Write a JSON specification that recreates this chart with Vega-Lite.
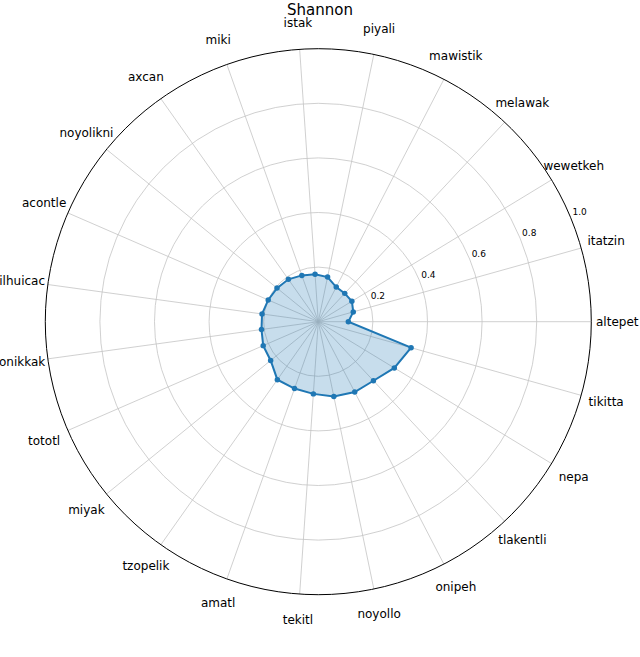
{
  "$schema": "https://vega.github.io/schema/vega-lite/v6.json",
  "width": 640,
  "height": 627,
  "padding": {"top": 30, "left": 0, "right": 0, "bottom": 0},
  "autosize": {"type": "none"},
  "title": {"text": "Shannon", "font": "DejaVu Sans", "fontSize": 15, "fontWeight": "normal", "color": "#000000", "anchor": "middle", "frame": "group", "baseline": "alphabetic", "offset": -13},
  "config": {"view": {"stroke": null}},
  "datasets": {
    "cats": [
      {"category": "altepet", "idx": 0, "value": 0.11},
      {"category": "itatzin", "idx": 1, "value": 0.133},
      {"category": "wewetkeh", "idx": 2, "value": 0.144},
      {"category": "melawak", "idx": 3, "value": 0.142},
      {"category": "mawistik", "idx": 4, "value": 0.143},
      {"category": "piyali", "idx": 5, "value": 0.167},
      {"category": "istak", "idx": 6, "value": 0.174},
      {"category": "miki", "idx": 7, "value": 0.18},
      {"category": "axcan", "idx": 8, "value": 0.19},
      {"category": "noyolikni", "idx": 9, "value": 0.195},
      {"category": "acontle", "idx": 10, "value": 0.2},
      {"category": "ilhuicac", "idx": 11, "value": 0.208},
      {"category": "onikkak", "idx": 12, "value": 0.21},
      {"category": "tototl", "idx": 13, "value": 0.22},
      {"category": "miyak", "idx": 14, "value": 0.225},
      {"category": "tzopelik", "idx": 15, "value": 0.26},
      {"category": "amatl", "idx": 16, "value": 0.26},
      {"category": "tekitl", "idx": 17, "value": 0.265},
      {"category": "noyollo", "idx": 18, "value": 0.28},
      {"category": "onipeh", "idx": 19, "value": 0.29},
      {"category": "tlakentli", "idx": 20, "value": 0.296},
      {"category": "nepa", "idx": 21, "value": 0.326},
      {"category": "tikitta", "idx": 22, "value": 0.353}
    ],
    "rings": [
      {"r": 0.2, "label": "0.2"},
      {"r": 0.4, "label": "0.4"},
      {"r": 0.6, "label": "0.6"},
      {"r": 0.8, "label": "0.8"},
      {"r": 1.0, "label": "1.0"}
    ]
  },
  "layer": [
    {
      "data": {"name": "cats"},
      "transform": [
        {"calculate": "datum.idx * 2 * PI / 23", "as": "ang"},
        {"calculate": "cos(datum.ang)", "as": "sx"},
        {"calculate": "sin(datum.ang)", "as": "sy"}
      ],
      "mark": {"type": "rule", "stroke": "#c4c4c4", "strokeWidth": 0.8},
      "encoding": {
        "x": {"field": "sx", "type": "quantitative", "scale": {"domain": [-1.1659, 1.1784], "nice": false, "zero": false}, "axis": null},
        "y": {"field": "sy", "type": "quantitative", "scale": {"domain": [-1.2282, 1.0685], "nice": false, "zero": false}, "axis": null},
        "x2": {"datum": 0},
        "y2": {"datum": 0}
      }
    },
    {
      "data": {"name": "rings"},
      "transform": [{"calculate": "0", "as": "cx"}],
      "mark": {"type": "point", "shape": "circle", "filled": false, "opacity": 1},
      "encoding": {
        "x": {"field": "cx", "type": "quantitative"},
        "y": {"field": "cx", "type": "quantitative"},
        "size": {"field": "r", "type": "quantitative", "scale": {"type": "pow", "exponent": 2, "domain": [0, 1], "range": [0, 298116], "zero": true}, "legend": null},
        "stroke": {"condition": {"test": "datum.r == 1", "value": "#000000"}, "value": "#c4c4c4"},
        "strokeWidth": {"condition": {"test": "datum.r == 1", "value": 1}, "value": 0.8}
      }
    },
    {
      "data": {"name": "cats"},
      "transform": [
        {"calculate": "datum.idx * 2 * PI / 23", "as": "ang"},
        {"calculate": "datum.value * cos(datum.ang)", "as": "px"},
        {"calculate": "datum.value * sin(datum.ang)", "as": "py"}
      ],
      "mark": {"type": "line", "interpolate": "linear-closed", "fill": "#1f77b4", "fillOpacity": 0.25, "stroke": "#1f77b4", "strokeWidth": 2},
      "encoding": {
        "x": {"field": "px", "type": "quantitative"},
        "y": {"field": "py", "type": "quantitative"},
        "order": {"field": "idx", "type": "quantitative"}
      }
    },
    {
      "data": {"name": "cats"},
      "transform": [
        {"calculate": "datum.idx * 2 * PI / 23", "as": "ang"},
        {"calculate": "datum.value * cos(datum.ang)", "as": "px"},
        {"calculate": "datum.value * sin(datum.ang)", "as": "py"}
      ],
      "mark": {"type": "point", "shape": "circle", "filled": true, "size": 30, "color": "#1f77b4", "opacity": 1},
      "encoding": {
        "x": {"field": "px", "type": "quantitative"},
        "y": {"field": "py", "type": "quantitative"}
      }
    },
    {
      "data": {"name": "cats"},
      "transform": [
        {"calculate": "datum.idx * 2 * PI / 23", "as": "ang"},
        {"calculate": "1.095 * cos(datum.ang)", "as": "lx"},
        {"calculate": "1.095 * sin(datum.ang)", "as": "ly"}
      ],
      "mark": {"type": "text", "font": "DejaVu Sans", "fontSize": 12, "align": "center", "baseline": "middle", "color": "#000000"},
      "encoding": {
        "x": {"field": "lx", "type": "quantitative"},
        "y": {"field": "ly", "type": "quantitative"},
        "text": {"field": "category"}
      }
    },
    {
      "data": {"name": "rings"},
      "transform": [
        {"calculate": "datum.r * cos(PI / 8)", "as": "tx"},
        {"calculate": "datum.r * sin(PI / 8)", "as": "ty"}
      ],
      "mark": {"type": "text", "font": "DejaVu Sans", "fontSize": 9, "align": "left", "baseline": "bottom", "dx": 2, "color": "#000000"},
      "encoding": {
        "x": {"field": "tx", "type": "quantitative"},
        "y": {"field": "ty", "type": "quantitative"},
        "text": {"field": "label"}
      }
    }
  ]
}
